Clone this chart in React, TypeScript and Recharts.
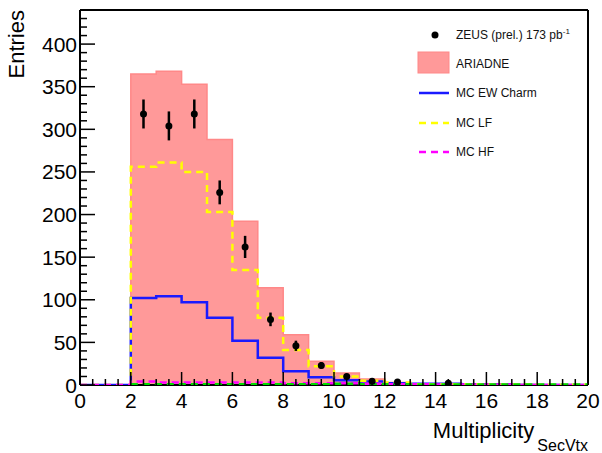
import {
  Area,
  ComposedChart,
  ErrorBar,
  Label,
  Legend,
  Line,
  ReferenceLine,
  Scatter,
  XAxis,
  YAxis
} from "recharts";

const FONT = '"Liberation Sans", Arial, Helvetica, sans-serif';

// bin edges of the multiplicity histogram (unit-width bins)
const binEdges = [0, 1, 2, 3, 4, 5, 6, 7, 8, 9, 10, 11, 12, 13, 14, 15, 16, 17, 18, 19, 20];

// bin contents, one value per bin
const ariadne = [0, 0, 365, 368, 353, 288, 192, 114, 59, 28, 14, 7, 3, 1.5, 1, 1, 0.5, 0.5, 0.3, 0.2];
const mcLF = [0, 0, 256, 261, 250, 203, 135, 79, 41, 22, 10, 5, 3, 1, 1, 1, 0.5, 0.5, 0.3, 0.2];
const ewCharm = [0, 0, 102, 104, 97, 79, 52, 32, 16, 9, 5.5, 4, 2, 1.5, 1.5, 1, 1, 0, 0, 0];
const mcHF = [0, 0, 4, 3, 3, 3, 3, 3, 2, 2, 2, 1.5, 1, 1, 0.5, 0.5, 0.5, 0, 0, 0];
const mcOther = [null, null, 0.8, 0.8, 0.8, 0.8, 0.8, 0.8, 0.8, 0.8, 1.5, 1, 0.8, 0.5, 0.5, 0.5, 0.5, 0.5, 0.5, 0.5];

// ZEUS data points at bin centres
const pointX = [2.5, 3.5, 4.5, 5.5, 6.5, 7.5, 8.5, 9.5, 10.5, 11.5, 12.5, 14.5];
const pointY = [318, 304, 318, 226, 162, 77, 46, 23, 10, 4.5, 3.5, 2];
const pointErr = [17, 17, 17, 14, 13, 8, 6, 4, 3, 2, 1.5, 1.5];

const xLabels = [0, 2, 4, 6, 8, 10, 12, 14, 16, 18, 20];
const yLabels = [0, 50, 100, 150, 200, 250, 300, 350, 400];

// minor ticks: every 0.5 on x, every 10 on y
const xTicks = xLabels.flatMap((v, i) => (i < xLabels.length - 1 ? [v, v + 0.5, v + 1, v + 1.5] : [v]));
const yTicks = yLabels.flatMap((v) => [v, v + 10, v + 20, v + 30, v + 40]);

// step rows: last edge repeats the last bin so the outline closes at x = 20
const histRows = binEdges.map((x, i) => {
  const b = Math.min(i, binEdges.length - 2);
  return { x, ariadne: ariadne[b], lf: mcLF[b], charm: ewCharm[b], hf: mcHF[b], other: mcOther[b] };
});

const zeusPoints = pointX.map((x, i) => ({ x, y: pointY[i], err: pointErr[i] }));

function XTick({ x, y, payload }: any) {
  const v = payload.value;
  const major = xLabels.includes(v);
  return (
    <g>
      <line x1={x} x2={x} y1={y} y2={y - (major ? 13 : 6)} stroke="#000" strokeWidth={1.5} />
      {major && (
        <text x={x} y={y + 23} textAnchor="middle" fontSize={21} fontFamily={FONT} fill="#000">
          {v}
        </text>
      )}
    </g>
  );
}

function YTick({ x, y, payload }: any) {
  const v = payload.value;
  const major = yLabels.includes(v);
  return (
    <g>
      <line x1={x} x2={x + (major ? 15 : 7)} y1={y} y2={y} stroke="#000" strokeWidth={1.5} />
      {major && (
        <text x={x - 3} y={y + 7.5} textAnchor="end" fontSize={21} fontFamily={FONT} fill="#000">
          {v}
        </text>
      )}
    </g>
  );
}

function LegendBox() {
  const text = { fontSize: 12, fontFamily: FONT, fill: "#111" };
  return (
    <svg width={200} height={150} style={{ display: "block" }}>
      <circle cx={35} cy={15} r={3.5} fill="#000" />
      <text x={56} y={19} {...text}>
        ZEUS (prel.) 173 pb<tspan fontSize={8} dy={-5}>-1</tspan>
      </text>
      <rect x={18} y={32} width={31} height={21} fill="#ff3333" fillOpacity={0.5} stroke="#ff8888" />
      <text x={56} y={48} {...text}>ARIADNE</text>
      <line x1={19} x2={49} y1={73} y2={73} stroke="#1a1aff" strokeWidth={2.5} />
      <text x={56} y={77} {...text}>MC EW Charm</text>
      <line x1={19} x2={49} y1={103} y2={103} stroke="#ffff00" strokeWidth={2.5} strokeDasharray="7 5" />
      <text x={56} y={107} {...text}>MC LF</text>
      <line x1={19} x2={49} y1={132} y2={132} stroke="#ff00ff" strokeWidth={2.5} strokeDasharray="7 5" />
      <text x={56} y={136} {...text}>MC HF</text>
    </svg>
  );
}

export default function App() {
  return (
    <div style={{ position: "absolute", left: 0, top: 0, background: "#fff" }}>
      <ComposedChart
        width={602}
        height={453}
        data={histRows}
        margin={{ top: 10, right: 14, left: 0, bottom: 0 }}
      >
        <XAxis
          dataKey="x"
          type="number"
          domain={[0, 20]}
          ticks={xTicks}
          interval={0}
          allowDataOverflow
          height={68}
          tickSize={0}
          tickMargin={0}
          tickLine={false}
          axisLine={false}
          tick={XTick}
        >
          <Label
            content={() => (
              <text x={588} y={438} textAnchor="end" fontFamily={FONT} fill="#000">
                <tspan fontSize={22}>Multiplicity</tspan>
                <tspan fontSize={16} dx={3} dy={13}>SecVtx</tspan>
              </text>
            )}
          />
        </XAxis>
        <YAxis
          type="number"
          domain={[0, 440]}
          ticks={yTicks}
          interval={0}
          allowDataOverflow
          width={80}
          tickSize={0}
          tickMargin={0}
          tickLine={false}
          axisLine={{ stroke: "#000", strokeWidth: 2 }}
          tick={YTick}
        >
          <Label
            content={() => (
              <text
                x={24}
                y={10}
                transform="rotate(-90 24 10)"
                textAnchor="end"
                fontSize={22}
                fontFamily={FONT}
                fill="#000"
              >
                Entries
              </text>
            )}
          />
        </YAxis>
        <ReferenceLine y={0} stroke="#000" strokeWidth={2} />
        <ReferenceLine y={440} stroke="#000" strokeWidth={2} />
        <ReferenceLine x={20} stroke="#000" strokeWidth={2} />

        <Area
          type="stepAfter"
          dataKey="ariadne"
          fill="#ff3333"
          fillOpacity={0.5}
          stroke="#ff8888"
          strokeWidth={1.5}
          dot={false}
          activeDot={false}
          isAnimationActive={false}
        />
        <Line type="stepAfter" dataKey="charm" stroke="#1a1aff" strokeWidth={2.5} dot={false} activeDot={false} isAnimationActive={false} />
        <Line type="stepAfter" dataKey="lf" stroke="#ffff00" strokeWidth={2.5} strokeDasharray="7 5" dot={false} activeDot={false} isAnimationActive={false} />
        <Line type="stepAfter" dataKey="hf" stroke="#ff00ff" strokeWidth={2.5} strokeDasharray="7 5" dot={false} activeDot={false} isAnimationActive={false} />
        <Line type="stepAfter" dataKey="other" stroke="#00dd00" strokeWidth={2.5} strokeDasharray="7 5" dot={false} activeDot={false} isAnimationActive={false} />

        <Scatter
          data={zeusPoints}
          dataKey="y"
          isAnimationActive={false}
          shape={(p: any) => <circle cx={p.cx} cy={p.cy} r={3.5} fill="#000" />}
        >
          <ErrorBar dataKey="err" direction="y" width={0} stroke="#000" strokeWidth={2.5} />
        </Scatter>

        <Legend
          content={LegendBox}
          layout="horizontal"
          verticalAlign="middle"
          align="center"
          wrapperStyle={{ left: 400, top: 20, width: 200, height: 150 }}
        />
      </ComposedChart>
    </div>
  );
}
